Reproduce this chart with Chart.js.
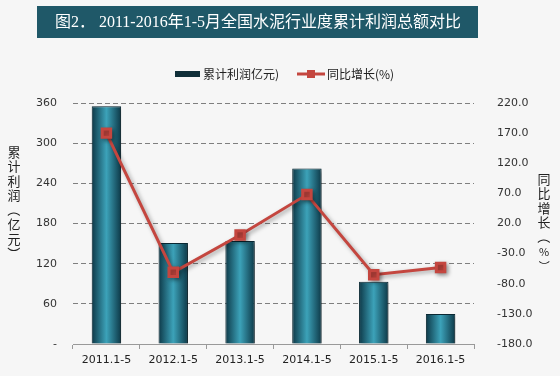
<!DOCTYPE html>
<html>
<head>
<meta charset="utf-8">
<script src="https://cdn.jsdelivr.net/npm/chart.js@4.4.0/dist/chart.umd.min.js"></script>
<style>
  html, body { margin: 0; padding: 0; background: #f6f6f6; }
  #wrap { width: 560px; height: 376px; }
</style>
</head>
<body>
<div id="wrap"><canvas id="grafico" width="560" height="376"></canvas></div>
<script>
// 数据
const categorias = ['2011.1-5', '2012.1-5', '2013.1-5', '2014.1-5', '2015.1-5', '2016.1-5'];
const lirun = [355, 151, 154, 262, 93, 45];          // 累计利润(亿元)
const tongbi = [170, -61, 1, 68, -65, -53];         // 同比增长(%)
const ticksIzq = [0, 60, 120, 180, 240, 300, 360];
const ticksDer = [-180, -130, -80, -30, 20, 70, 120, 170, 220];

const titulo = '图2． 2011-2016年1-5月全国水泥行业度累计利润总额对比';
const leyendaBar = '累计利润亿元)';
const leyendaLinea = '同比增长(%)';
const tituloIzq = '累计利润（亿元）';
const tituloDer = '同比增长（%）';

const fuenteCJK = "'Noto Sans CJK SC', 'DejaVu Sans', sans-serif";
const rojo = '#c4463f';

// 渐变柱子
function colorBarra(context) {
  const chart = context.chart;
  const xs = chart.scales.x;
  if (!xs || !chart.chartArea) return '#2a7f94';
  const c = xs.getPixelForValue(context.dataIndex);
  const half = (xs.width / categorias.length) * 0.44 / 2;
  const g = chart.ctx.createLinearGradient(c - half, 0, c + half, 0);
  g.addColorStop(0, '#0d3847');
  g.addColorStop(0.5, '#3ca2b9');
  g.addColorStop(1, '#0d3847');
  return g;
}

// 标题、图例、纵向轴标题
const decoraciones = {
  id: 'decoraciones',
  beforeDraw(chart) {
    const ctx = chart.ctx;
    ctx.save();
    ctx.fillStyle = '#f6f6f6';
    ctx.fillRect(0, 0, chart.width, chart.height);
    ctx.fillStyle = '#1f5868';
    ctx.fillRect(37, 6, 441, 32);
    ctx.fillStyle = '#ffffff';
    ctx.font = "16px 'Liberation Serif', 'Noto Sans CJK SC', serif";
    ctx.textAlign = 'center';
    ctx.textBaseline = 'middle';
    ctx.fillText(titulo, 258, 23);
    ctx.restore();
  },
  afterDraw(chart) {
    const ctx = chart.ctx;
    ctx.save();
    ctx.textBaseline = 'middle';
    ctx.textAlign = 'left';
    // 图例
    ctx.fillStyle = '#0f2e38';
    ctx.fillRect(175, 71, 25, 6);
    ctx.fillStyle = '#222';
    ctx.font = '12px ' + fuenteCJK;
    ctx.fillText(leyendaBar, 203, 74);
    ctx.strokeStyle = rojo;
    ctx.lineWidth = 3;
    ctx.beginPath();
    ctx.moveTo(297, 74);
    ctx.lineTo(325, 74);
    ctx.stroke();
    ctx.fillStyle = rojo;
    ctx.fillRect(307, 70, 8, 8);
    ctx.fillStyle = '#222';
    ctx.fillText(leyendaLinea, 327, 74);
    // 纵向标题
    vertical(ctx, tituloIzq, 14, 152);
    vertical(ctx, tituloDer, 544, 179);
    ctx.restore();
  }
};

function vertical(ctx, texto, x, y0) {
  ctx.font = '13px ' + fuenteCJK;
  ctx.fillStyle = '#222';
  ctx.textAlign = 'center';
  ctx.textBaseline = 'middle';
  [...texto].forEach((ch, i) => {
    const y = y0 + i * 14.5;
    if (ch === '（' || ch === '）') {
      ctx.save();
      ctx.translate(x, y);
      ctx.rotate(Math.PI / 2);
      ctx.fillText(ch, 0, 0);
      ctx.restore();
    } else {
      ctx.font = (ch === '%' ? '11px ' : '13px ') + fuenteCJK;
      ctx.fillText(ch, x, y);
    }
  });
}

// 阴影
const sombra = {
  id: 'sombra',
  beforeDatasetDraw(chart) {
    const ctx = chart.ctx;
    ctx.save();
    ctx.shadowColor = 'rgba(0,0,0,0.35)';
    ctx.shadowBlur = 4;
    ctx.shadowOffsetX = 2;
    ctx.shadowOffsetY = 2;
  },
  afterDatasetDraw(chart) {
    chart.ctx.restore();
  }
};

new Chart(document.getElementById('grafico'), {
  data: {
    labels: categorias,
    datasets: [
      {
        type: 'line',
        label: leyendaLinea,
        data: tongbi,
        yAxisID: 'y1',
        borderColor: rojo,
        backgroundColor: rojo,
        borderWidth: 3,
        pointStyle: 'rect',
        pointRadius: 6,
        pointHoverRadius: 6,
        tension: 0,
        order: 0
      },
      {
        type: 'bar',
        label: leyendaBar,
        data: lirun,
        yAxisID: 'y',
        backgroundColor: colorBarra,
        borderColor: '#0a2a35',
        borderWidth: 1,
        barPercentage: 0.44,
        categoryPercentage: 1,
        order: 1
      }
    ]
  },
  options: {
    responsive: false,
    animation: false,
    layout: { padding: { top: 103, bottom: 0, left: 0, right: 0 } },
    plugins: {
      legend: { display: false },
      tooltip: { enabled: false }
    },
    scales: {
      x: {
        offset: true,
        grid: { offset: true, drawOnChartArea: false, tickLength: 5, color: '#999' },
        border: { display: true, color: '#999' },
        ticks: { color: '#222', font: { family: 'DejaVu Sans', size: 11 }, padding: 5, maxRotation: 0 },
        afterFit(s) { s.height = 32; }
      },
      y: {
        position: 'left',
        min: 0,
        max: 360,
        afterBuildTicks(s) { s.ticks = ticksIzq.map(v => ({ value: v })); },
        ticks: {
          color: '#333',
          font: { family: 'DejaVu Sans', size: 11 },
          padding: 16,
          callback: v => (v === 0 ? '-' : v)
        },
        grid: {
          drawTicks: false,
          lineWidth: 1,
          borderDash: [5, 3],
          color: ctx => (ctx.tick && ctx.tick.value === 0 ? 'rgba(0,0,0,0)' : '#7f7f7f')
        },
        border: { display: false, dash: [5, 3] },
        afterFit(s) { s.width = 73; }
      },
      y1: {
        position: 'right',
        min: -180,
        max: 220,
        afterBuildTicks(s) { s.ticks = ticksDer.map(v => ({ value: v })); },
        ticks: {
          color: '#333',
          font: { family: 'DejaVu Sans', size: 11 },
          padding: 15,
          callback: v => v.toFixed(1)
        },
        grid: { display: false },
        border: { display: false },
        afterFit(s) { s.width = 86; }
      }
    }
  },
  plugins: [decoraciones, sombra]
});
</script>
</body>
</html>
